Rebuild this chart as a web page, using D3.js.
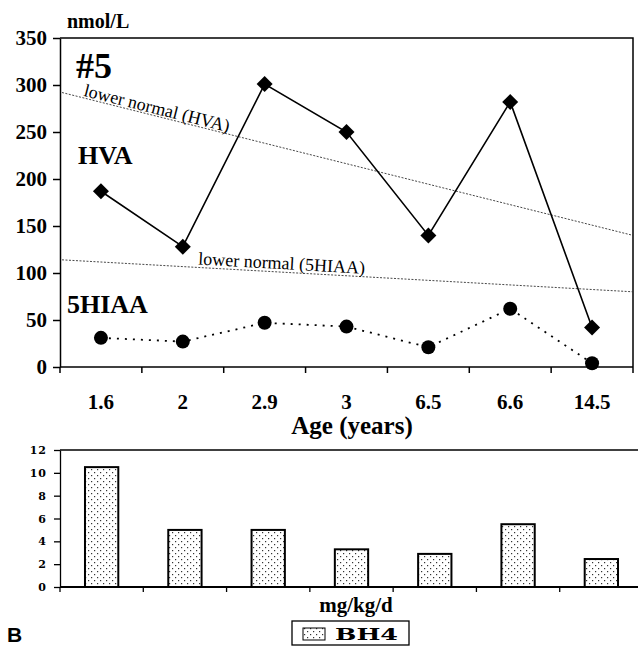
<!DOCTYPE html>
<html>
<head>
<meta charset="utf-8">
<script src="https://cdn.jsdelivr.net/npm/d3@7"></script>
<style>
  body { margin: 0; background: #fff; }
  svg { display: block; }
  .serif { font-family: "Liberation Serif", "Times New Roman", serif; }
</style>
</head>
<body>
<svg id="chart" width="638" height="646"></svg>
<script>
// data
var ages = ["1.6", "2", "2.9", "3", "6.5", "6.6", "14.5"];
var hva = [187, 128, 301, 250, 140, 282, 42];
var hiaa = [31, 27, 47, 43, 21, 62, 4];
var hvaNormal = [292, 140];   // value at left / right edge of plot
var hiaaNormal = [114, 80];
var yTicksTop = [0, 50, 100, 150, 200, 250, 300, 350];
var bh4 = [10.5, 5, 5, 3.3, 2.9, 5.5, 2.45];
var yTicksBottom = [0, 2, 4, 6, 8, 10, 12];

var svg = d3.select("#chart");

// pattern for the bars
var defs = svg.append("defs");
var pat = defs.append("pattern").attr("id", "dots")
  .attr("patternUnits", "userSpaceOnUse").attr("width", 6).attr("height", 6);
pat.append("rect").attr("width", 6).attr("height", 6).attr("fill", "#fff");
pat.append("rect").attr("x", 1).attr("y", 1).attr("width", 1.2).attr("height", 1.2).attr("fill", "#333");
pat.append("rect").attr("x", 4).attr("y", 4).attr("width", 1.2).attr("height", 1.2).attr("fill", "#333");

// ---------- top chart ----------
var tp = {left: 60, right: 633, top: 38, bottom: 367};
var x = d3.scaleBand().domain(ages).range([tp.left, tp.right]).padding(0);
var y = d3.scaleLinear().domain([0, 350]).range([tp.bottom, tp.top]);

var g = svg.append("g").attr("class", "serif");

// frame: top and right
g.append("path")
  .attr("d", "M" + tp.left + "," + tp.top + "H" + tp.right + "V" + tp.bottom)
  .attr("fill", "none").attr("stroke", "#000").attr("stroke-width", 1.5);

var yAxis = d3.axisLeft(y).tickValues(yTicksTop).tickSize(7).tickSizeOuter(0).tickPadding(6);
var ya = g.append("g").attr("transform", "translate(" + tp.left + ",0)").call(yAxis);
ya.attr("font-family", null);
ya.select(".domain").attr("stroke-width", 1.5);
ya.selectAll("line").attr("stroke-width", 1.5);
ya.selectAll("text").attr("font-weight", "bold")
  .attr("font-size", 21).attr("fill", "#000");

// x axis line + boundary ticks
g.append("line").attr("x1", tp.left).attr("x2", tp.right)
  .attr("y1", tp.bottom).attr("y2", tp.bottom).attr("stroke", "#000").attr("stroke-width", 1.5);
var bounds = ages.map(function(a) { return x(a); }).concat([x.range()[1]]);
g.selectAll(".xt").data(bounds).enter().append("line")
  .attr("x1", function(d) { return d; }).attr("x2", function(d) { return d; })
  .attr("y1", tp.bottom).attr("y2", tp.bottom + 6)
  .attr("stroke", "#000").attr("stroke-width", 1.5);
g.selectAll(".xl").data(ages).enter().append("text")
  .attr("x", function(d) { return x(d) + x.bandwidth() / 2; })
  .attr("y", 409).attr("text-anchor", "middle")
  .attr("font-weight", "bold").attr("font-size", 21).text(function(d) { return d; });

// lower normal lines
var xn = d3.scaleLinear().domain([0, 1]).range([62, tp.right]);
function normalLine(vals, label, lx, off) {
  g.append("line")
    .attr("x1", xn(0)).attr("y1", y(vals[0])).attr("x2", xn(1)).attr("y2", y(vals[1]))
    .attr("stroke", "#333").attr("stroke-width", 0.9).attr("stroke-dasharray", "2,1.5");
  var slope = (y(vals[1]) - y(vals[0])) / (xn(1) - xn(0));
  var ang = Math.atan(slope) * 180 / Math.PI;
  var ly = y(vals[0]) + (lx - xn(0)) * slope - off;
  g.append("text").attr("transform", "translate(" + lx + "," + ly + ") rotate(" + ang + ")")
    .attr("font-size", 18).text(label);
}
normalLine(hvaNormal, "lower normal (HVA)", 83, 2);
normalLine(hiaaNormal, "lower normal (5HIAA)", 198, 3);

// HVA series
var cx = function(d, i) { return x(ages[i]) + x.bandwidth() / 2; };
g.append("path").datum(hva)
  .attr("d", d3.line().x(cx).y(function(d) { return y(d); }))
  .attr("fill", "none").attr("stroke", "#000").attr("stroke-width", 1.6);
g.selectAll(".dia").data(hva).enter().append("path")
  .attr("transform", function(d, i) { return "translate(" + cx(d, i) + "," + y(d) + ")"; })
  .attr("d", "M0,-8L8,0L0,8L-8,0Z").attr("fill", "#000");

// 5HIAA series
g.append("path").datum(hiaa)
  .attr("d", d3.line().x(cx).y(function(d) { return y(d); }))
  .attr("fill", "none").attr("stroke", "#000").attr("stroke-width", 1.8)
  .attr("stroke-dasharray", "2,6");
g.selectAll(".dot").data(hiaa).enter().append("circle")
  .attr("cx", cx).attr("cy", function(d) { return y(d); }).attr("r", 7).attr("fill", "#000");

// labels
g.append("text").attr("x", 67).attr("y", 28).attr("font-weight", "bold").attr("font-size", 20).text("nmol/L");
g.append("text").attr("x", 76).attr("y", 78).attr("font-weight", "bold").attr("font-size", 36).text("#5");
g.append("text").attr("x", 78).attr("y", 164).attr("font-weight", "bold").attr("font-size", 26).text("HVA");
g.append("text").attr("x", 67).attr("y", 313).attr("font-weight", "bold").attr("font-size", 26).text("5HIAA");
g.append("text").attr("x", 352).attr("y", 434).attr("text-anchor", "middle")
  .attr("font-weight", "bold").attr("font-size", 25).text("Age (years)");

// ---------- bottom chart ----------
var bot = {left: 60, right: 643, top: 450, bottom: 587};
var xb = d3.scaleBand().domain(ages).range([bot.left, bot.right]).paddingInner(0.6).paddingOuter(0.3);
var xs = d3.scaleBand().domain(ages).range([bot.left, bot.right]).padding(0);
var yb = d3.scaleLinear().domain([0, 12]).range([bot.bottom, bot.top]);

var b = svg.append("g").attr("class", "serif");
b.append("line").attr("x1", bot.left).attr("x2", bot.right)
  .attr("y1", bot.top).attr("y2", bot.top).attr("stroke", "#000").attr("stroke-width", 1.3);

b.selectAll(".bar").data(bh4).enter().append("rect")
  .attr("x", function(d, i) { return xb(ages[i]); })
  .attr("y", function(d) { return yb(d); })
  .attr("width", xb.bandwidth())
  .attr("height", function(d) { return yb(0) - yb(d); })
  .attr("fill", "url(#dots)").attr("stroke", "#000").attr("stroke-width", 2);

var ybAxis = d3.axisLeft(yb).tickValues(yTicksBottom).tickSize(6).tickSizeOuter(0).tickPadding(7);
var yba = b.append("g").attr("transform", "translate(" + bot.left + ",0)").call(ybAxis);
yba.select(".domain").attr("stroke-width", 1.3);
yba.selectAll("line").attr("stroke-width", 1.3);
yba.selectAll("text").attr("font-family", "DejaVu Serif").attr("font-weight", "bold")
  .attr("font-size", 11).attr("letter-spacing", 1).attr("fill", "#000");

b.append("line").attr("x1", bot.left).attr("x2", bot.right)
  .attr("y1", bot.bottom).attr("y2", bot.bottom).attr("stroke", "#000").attr("stroke-width", 1.8);
var bb = ages.map(function(a) { return xs(a); });
b.selectAll(".bt").data(bb).enter().append("line")
  .attr("x1", function(d) { return d; }).attr("x2", function(d) { return d; })
  .attr("y1", bot.bottom).attr("y2", bot.bottom + 5)
  .attr("stroke", "#000").attr("stroke-width", 1.3);

b.append("text").attr("x", 356).attr("y", 612).attr("text-anchor", "middle")
  .attr("font-weight", "bold").attr("font-size", 21).text("mg/kg/d");

// legend
b.append("rect").attr("x", 292).attr("y", 621).attr("width", 117).attr("height", 24)
  .attr("fill", "#fff").attr("stroke", "#000").attr("stroke-width", 1.3);
b.append("rect").attr("x", 303).attr("y", 628).attr("width", 22).attr("height", 12)
  .attr("fill", "url(#dots)").attr("stroke", "#000").attr("stroke-width", 1);
b.append("text").attr("x", 335).attr("y", 640)
  .attr("font-family", "DejaVu Serif").attr("font-weight", "bold").attr("font-size", 16)
  .attr("textLength", 63).attr("lengthAdjust", "spacingAndGlyphs").text("BH4");

svg.append("text").attr("x", 7).attr("y", 642)
  .attr("font-family", "Liberation Sans, Arial, sans-serif").attr("font-weight", "bold")
  .attr("font-size", 21).text("B");
</script>
</body>
</html>
